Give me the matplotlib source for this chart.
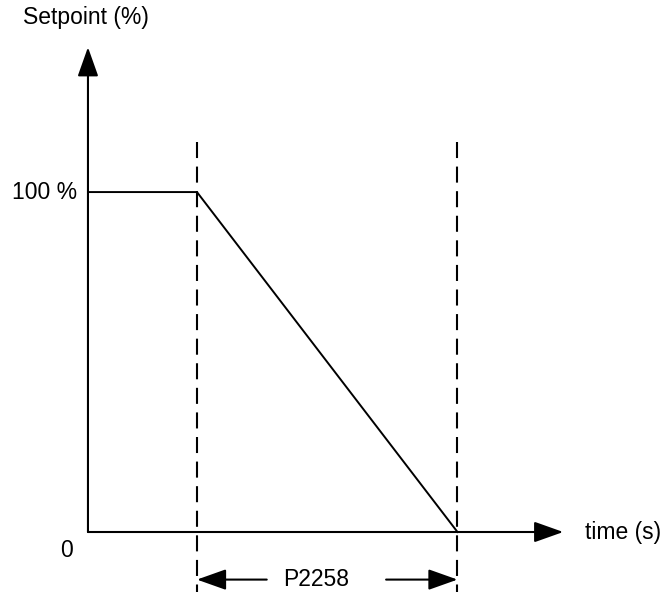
import matplotlib
matplotlib.use('Agg')
import matplotlib.pyplot as plt

plt.rcParams['font.family'] = ['Liberation Sans', 'DejaVu Sans']

# ramp-down profile (time in arbitrary units, setpoint in %)
time_pts = [0.0, 1.0, 3.39]
setpoint = [100, 100, 0]
ramp_label = 'P2258'
y_label = 'Setpoint (%)'
x_label = 'time (s)'
y_ticks = [0, 100]
y_tick_labels = ['0', '100 %']

fig = plt.figure(figsize=(6.67, 5.92), dpi=100)
ax = fig.add_axes([0, 0, 1, 1])
ax.set_xlim(-0.807, 5.312)
ax.set_ylim(-17.65, 156.5)
ax.axis('off')

head = '-|>,head_length=0.9,head_width=0.32'
arrow_kw = dict(arrowstyle=head, mutation_scale=20, lw=1.5,
                color='black', shrinkA=0, shrinkB=0)
fs = 16.5

# axes with arrows
ax.annotate('', xy=(0, 142.6), xytext=(0, 0), arrowprops=arrow_kw)
ax.annotate('', xy=(4.36, 0), xytext=(0, 0), arrowprops=arrow_kw)

# setpoint curve
ax.plot(time_pts, setpoint, color='black', lw=1.4, solid_joinstyle='miter')

# dashed markers at ramp start/end
for t in time_pts[1:]:
    ax.plot([t, t], [114.7, -17.65], color='black', lw=1.5,
            dashes=(7.7, 4.1))

# dimension arrows
dim_y = -14.0
ax.annotate('', xy=(time_pts[1], dim_y), xytext=(1.64, dim_y), arrowprops=arrow_kw)
ax.annotate('', xy=(time_pts[2], dim_y), xytext=(2.735, dim_y), arrowprops=arrow_kw)
ax.text(2.096, dim_y, ramp_label, fontsize=fs, ha='center', va='center')

# labels
ax.text(-0.595, 151.3, y_label, fontsize=fs, ha='left', va='center')
ax.text(4.56, 0, x_label, fontsize=fs, ha='left', va='center')
ax.text(-0.10, y_ticks[1], y_tick_labels[1], fontsize=fs, ha='right', va='center')
ax.text(-0.193, -5.3, y_tick_labels[0], fontsize=fs, ha='center', va='center')

fig.savefig('out.png', dpi=100)
